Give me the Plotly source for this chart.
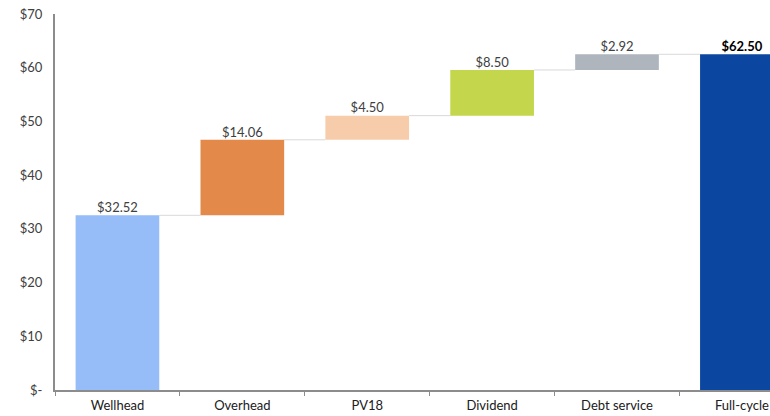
import plotly.graph_objects as go

categories = ["Wellhead", "Overhead", "PV18", "Dividend", "Debt service", "Full-cycle"]
values = [32.52, 14.06, 4.50, 8.50, 2.92, 62.50]
is_total = [False, False, False, False, False, True]
colors = ["#96BDF7", "#E3894A", "#F7CCAB", "#C4D64B", "#AEB5BD", "#0B47A0"]
label_texts = ["$32.52", "$14.06", "$4.50", "$8.50", "$2.92", "<b>$62.50</b>"]
label_colors = ["#404040"] * 5 + ["#000000"]
y_tickvals = [0, 10, 20, 30, 40, 50, 60, 70]
y_ticktext = ["$-", "$10", "$20", "$30", "$40", "$50", "$60", "$70"]

# compute bases / tops from data
bases, tops = [], []
running = 0.0
for v, t in zip(values, is_total):
    if t:
        bases.append(0.0)
        tops.append(v)
        running = v
    else:
        bases.append(running)
        running += v
        tops.append(running)

BAR_W = 0.67
FONT = "Lato, 'Open Sans', sans-serif"

fig = go.Figure()
fig.add_trace(go.Bar(
    x=categories, y=values, base=bases, width=BAR_W,
    marker=dict(color=colors, line=dict(width=0)),
    hoverinfo="skip", showlegend=False,
))
fig.add_trace(go.Scatter(
    x=categories, y=tops, mode="text", text=label_texts,
    textposition="top center",
    textfont=dict(family=FONT, size=13, color=label_colors),
    hoverinfo="skip", showlegend=False, cliponaxis=False,
))

shapes = []
for i in range(len(categories) - 1):
    level = tops[i]
    shapes.append(dict(
        type="line", xref="x", yref="y",
        x0=i + BAR_W / 2, x1=i + 1 - BAR_W / 2, y0=level, y1=level,
        line=dict(color="#D9D9D9", width=1), layer="below",
    ))

fig.update_layout(
    width=770, height=416,
    margin=dict(l=55, r=0, t=14, b=26),
    paper_bgcolor="white", plot_bgcolor="white",
    shapes=shapes,
    font=dict(family=FONT, size=13, color="#404040"),
    xaxis=dict(
        type="category", range=[-0.5, 5.225],
        showgrid=False, zeroline=False,
        showline=True, linecolor="#8C8C8C", linewidth=1.5,
        ticks="outside", tickson="boundaries", ticklen=4, tickcolor="#8C8C8C",
        ticklabelstandoff=3,
        tickfont=dict(family=FONT, size=13, color="#202020"),
    ),
    yaxis=dict(
        range=[0, 70], tickvals=y_tickvals, ticktext=y_ticktext,
        showgrid=False, zeroline=False,
        showline=True, linecolor="#8C8C8C", linewidth=2,
        ticks="", ticklabelstandoff=8,
        tickfont=dict(family=FONT, size=13, color="#404040"),
    ),
)

fig.write_html(
    "out.html",
    config={"displayModeBar": False},
    post_script="document.body.style.margin='0';document.body.style.padding='0';document.body.style.overflow='hidden';",
)
